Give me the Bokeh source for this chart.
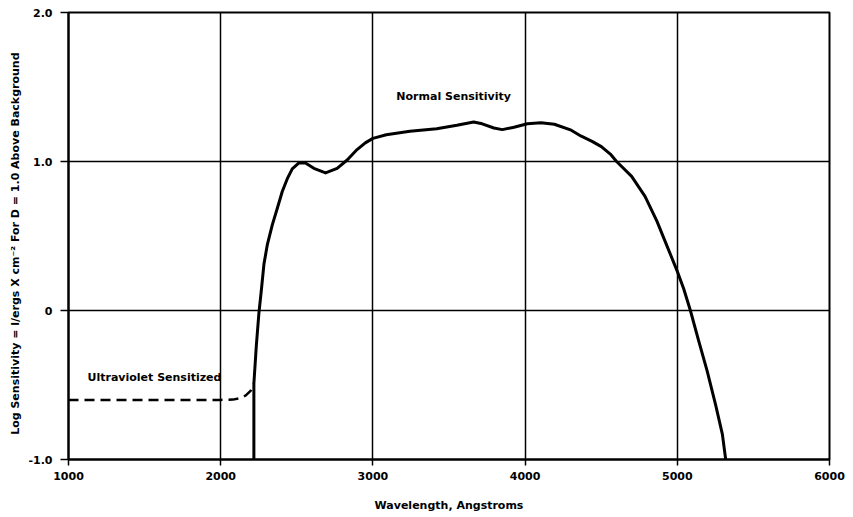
from bokeh.plotting import figure
from bokeh.models import FixedTicker, Range1d, Label
from bokeh.embed import file_html
from bokeh.resources import INLINE

# Normal sensitivity curve (wavelength in Angstroms, log sensitivity)
normal_x = [2218, 2218, 2234, 2251, 2267, 2284, 2306, 2339, 2372, 2405, 2437, 2470,
            2514, 2557, 2612, 2689, 2765, 2831, 2896, 2950, 3000, 3088, 3243, 3419,
            3552, 3662, 3718, 3795, 3850, 3927, 4015, 4104, 4192, 4303, 4369, 4440,
            4501, 4560, 4601, 4700, 4788, 4866, 4932, 4998, 5042, 5086, 5141, 5196,
            5251, 5296, 5318]
normal_y = [-1.0, -0.49, -0.237, -0.018, 0.136, 0.31, 0.44, 0.575, 0.686, 0.80, 0.883, 0.95,
            0.99, 0.99, 0.954, 0.923, 0.954, 1.01, 1.08, 1.125, 1.155, 1.18, 1.203, 1.22,
            1.243, 1.265, 1.253, 1.225, 1.214, 1.23, 1.253, 1.26, 1.25, 1.21, 1.17, 1.135,
            1.10, 1.05, 1.0, 0.90, 0.766, 0.60, 0.434, 0.268, 0.146, 0.0, -0.205, -0.405,
            -0.63, -0.83, -1.0]

# Ultraviolet sensitized extension
uv_x = [1000, 2000, 2080, 2130, 2165, 2196, 2218]
uv_y = [-0.6, -0.6, -0.598, -0.587, -0.57, -0.54, -0.49]

x_ticks = [1000, 2000, 3000, 4000, 5000, 6000]
y_ticks = [-1, 0, 1, 2]
y_tick_labels = {-1: "-1.0", 0: "0", 1: "1.0", 2: "2.0"}

FONT = "DejaVu Sans"

p = figure(width=845, height=514, output_backend="svg", toolbar_location=None,
           x_range=Range1d(1000, 6000), y_range=Range1d(-1.0, 2.0),
           min_border_left=68, min_border_right=16, min_border_top=12, min_border_bottom=52)

p.outline_line_color = "black"
p.outline_line_width = 2
p.background_fill_color = "white"
p.border_fill_color = "white"

p.xaxis.ticker = FixedTicker(ticks=x_ticks)
p.yaxis.ticker = FixedTicker(ticks=y_ticks)
p.yaxis.major_label_overrides = y_tick_labels

for ax in (p.xaxis[0], p.yaxis[0]):
    ax.axis_line_color = "black"
    ax.axis_line_width = 2
    ax.major_tick_line_color = "black"
    ax.major_tick_line_width = 1.5
    ax.major_tick_out = 6
    ax.major_tick_in = 0
    ax.minor_tick_line_color = None
    ax.major_label_text_font = FONT
    ax.major_label_text_font_style = "bold"
    ax.major_label_text_font_size = "11px"
    ax.major_label_text_color = "black"
    ax.axis_label_text_font = FONT
    ax.axis_label_text_font_style = "bold"
    ax.axis_label_text_font_size = "11px"
    ax.axis_label_text_color = "black"

p.yaxis.major_tick_out = 8
p.xaxis.axis_label = "Wavelength, Angstroms"
p.yaxis.axis_label = "Log  Sensitivity = l/ergs X cm\u207b\u00b2 For  D = 1.0  Above  Background"
p.xaxis.axis_label_standoff = 16
p.yaxis.axis_label_standoff = 3
p.xaxis.major_label_standoff = 6
p.yaxis.major_label_standoff = 8

p.xgrid.ticker = FixedTicker(ticks=x_ticks)
p.ygrid.ticker = FixedTicker(ticks=y_ticks)
p.grid.grid_line_color = "black"
p.grid.grid_line_width = 1.5
p.grid.grid_line_alpha = 1.0

p.line(uv_x, uv_y, line_color="black", line_width=2.5, line_dash="10 6")
p.line(normal_x, normal_y, line_color="black", line_width=3, line_join="round")

p.add_layout(Label(x=3543, y=1.435, text="Normal  Sensitivity", text_font=FONT,
                   text_font_style="bold", text_font_size="11px", text_color="black",
                   text_align="center", text_baseline="middle"))
p.add_layout(Label(x=1125, y=-0.45, text="Ultraviolet  Sensitized", text_font=FONT,
                   text_font_style="bold", text_font_size="11px", text_color="black",
                   text_align="left", text_baseline="middle"))

open("out.html", "w").write(file_html(p, INLINE))
